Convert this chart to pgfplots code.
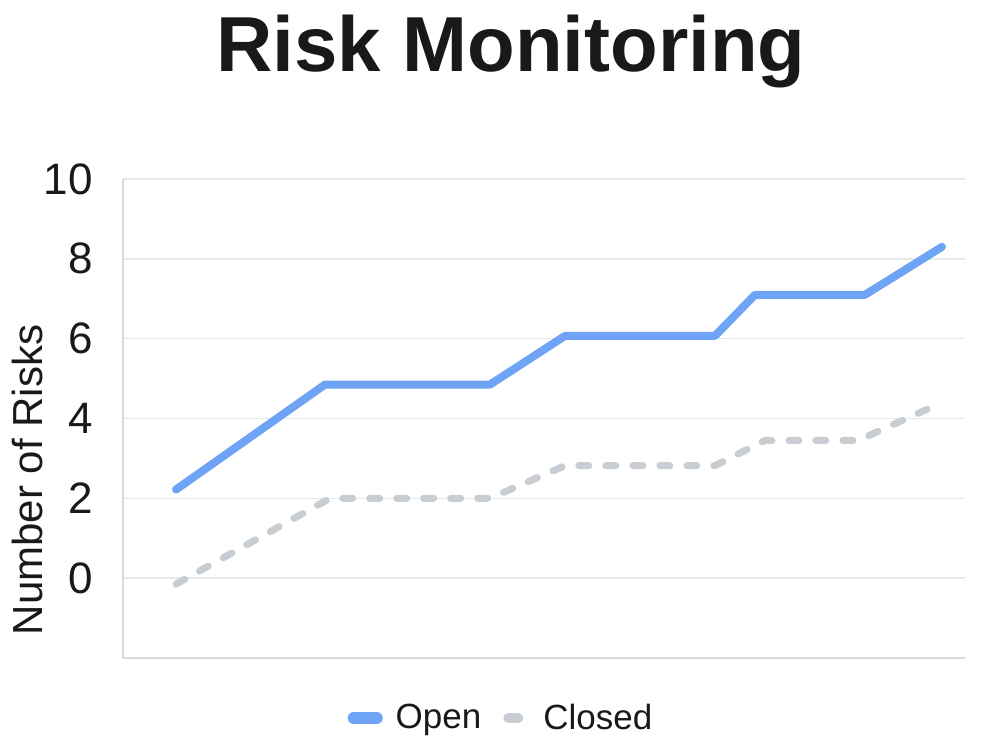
\documentclass[border=0pt]{standalone}
\usepackage{pgfplots}
\pgfplotsset{compat=1.18}
\usepackage{fontspec}
\setmainfont{Liberation Sans}
\definecolor{openblue}{HTML}{6FA3F5}
\definecolor{closedgray}{HTML}{C8CCD3}
\definecolor{gridc}{HTML}{E6E8EC}
\definecolor{axisc}{HTML}{D6DAE0}
\begin{document}
\begin{tikzpicture}
\path[use as bounding box] (-61.5pt,-46pt) rectangle (438.5pt,329pt);
\node[anchor=base, font=\fontsize{39}{44}\selectfont\bfseries, text=black!90] at (194pt,293pt) {Risk Monitoring};
\begin{axis}[
  scale only axis,
  width=421pt, height=239.5pt,
  xmin=123, xmax=965,
  ymin=-2, ymax=10,
  ytick={0,2,4,6,8,10},
  xtick=\empty,
  axis x line*=bottom,
  axis y line*=left,
  axis line style={axisc, line width=0.8pt, -},
  ymajorgrids,
  major grid style={gridc, line width=0.8pt},
  major tick length=0pt,
  /pgf/number format/assume math mode=true,
  yticklabel style={font=\fontsize{22}{26}\selectfont, text=black!90, anchor=east, inner sep=0pt, xshift=-15pt},
  ylabel={Number of Risks},
  ylabel style={font=\fontsize{21}{25}\selectfont, text=black!90, at={(axis description cs:-0.114,0.3716)}, anchor=center, rotate=0},
  clip=false,
  legend columns=2,
  legend style={draw=none, fill=none, at={(0.4501,-0.1253)}, anchor=center,
    font=\fontsize{17.5}{20}\selectfont, text=black!90,
    /tikz/every odd column/.append style={column sep=4.5pt},
    /tikz/every even column/.append style={column sep=9pt}},
]
\addplot[openblue, line width=4pt, line join=round, line cap=round,
  legend image code/.code={\draw[openblue, line width=6pt, line cap=round] (3pt,0pt) -- (14.5pt,0pt);}]
  coordinates {(176,2.22) (325,4.85) (490,4.85) (565,6.07) (715,6.07) (755,7.1) (865,7.1) (942,8.3)};
\addlegendentry{Open}
\addplot[closedgray, line width=3.5pt, line join=round, line cap=round, dash pattern=on 5pt off 8.5pt,
  legend image code/.code={\draw[closedgray, line width=5pt, line cap=round] (2.5pt,0pt) -- (11pt,0pt);}]
  coordinates {(176,-0.15) (330,2.0) (490,2.0) (565,2.82) (715,2.82) (765,3.45) (858,3.45) (942,4.4)};
\addlegendentry{Closed}
\end{axis}
\end{tikzpicture}
\end{document}
